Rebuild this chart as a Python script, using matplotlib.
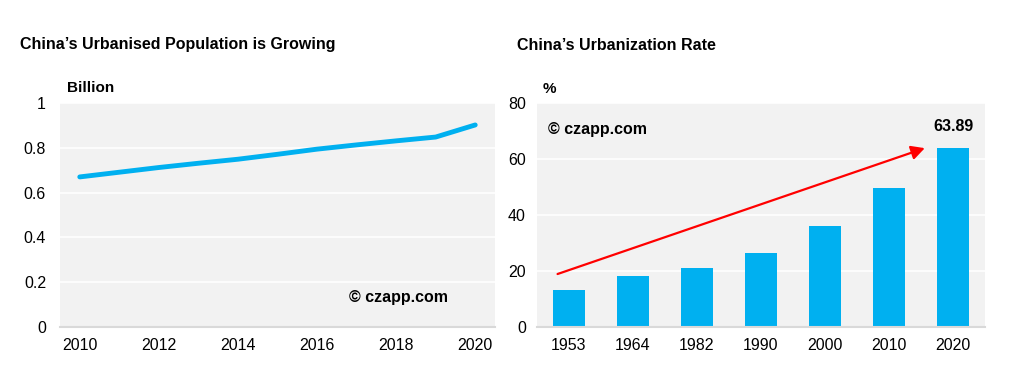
import matplotlib.pyplot as plt

plt.rcParams["font.family"] = ["Liberation Sans", "DejaVu Sans"]

# Left chart: urbanised population (billion)
years = [2010, 2011, 2012, 2013, 2014, 2015, 2016, 2017, 2018, 2019, 2020]
urban_pop = [0.670, 0.691, 0.712, 0.731, 0.749, 0.771, 0.794, 0.813, 0.831, 0.848, 0.902]

# Right chart: urbanization rate (%)
rate_years = ["1953", "1964", "1982", "1990", "2000", "2010", "2020"]
rate_values = [13.3, 18.3, 20.9, 26.4, 36.2, 49.7, 63.89]

BLUE = "#00b0f0"
BG = "#f2f2f2"


def style_axes(ax):
    """Grey background, white grid, no frame except a light base line"""
    ax.set_facecolor(BG)
    ax.grid(axis="y", color="white", linewidth=1.2)
    ax.set_axisbelow(True)
    for side in ["top", "right", "left"]:
        ax.spines[side].set_visible(False)
    ax.spines["bottom"].set_color("#d9d9d9")
    ax.spines["bottom"].set_linewidth(1.5)
    ax.tick_params(length=0, labelsize=11.5, pad=8)


fig = plt.figure(figsize=(10.11, 3.66), dpi=100)

# left
ax1 = fig.add_axes([60 / 1011, 1 - 327 / 366, 435 / 1011, 224 / 366])
style_axes(ax1)
ax1.plot(years, urban_pop, color=BLUE, linewidth=3.5, solid_capstyle="round")
ax1.set_xlim(2009.5, 2020.5)
ax1.set_ylim(0, 1)
ax1.set_xticks(range(2010, 2021, 2))
ax1.set_yticks([0, 0.2, 0.4, 0.6, 0.8, 1])
ax1.set_yticklabels(["0", "0.2", "0.4", "0.6", "0.8", "1"])
ax1.tick_params(axis="y", pad=10)
ax1.text(0.665, 0.11, "© czapp.com", transform=ax1.transAxes,
         fontsize=11.5, fontweight="bold")

# right
ax2 = fig.add_axes([537 / 1011, 1 - 327 / 366, 448 / 1011, 224 / 366])
style_axes(ax2)
xpos = range(len(rate_years))
ax2.bar(xpos, rate_values, width=0.51, color=BLUE)
ax2.set_xlim(-0.5, 6.5)
ax2.set_ylim(0, 80)
ax2.set_xticks(list(xpos))
ax2.set_xticklabels(rate_years)
ax2.set_yticks(range(0, 81, 20))
ax2.tick_params(axis="y", pad=8)
ax2.annotate("", xy=(5.6, 64.2), xytext=(-0.22, 18.6),
             arrowprops=dict(arrowstyle="-|>,head_length=0.8,head_width=0.42",
                             color="#ff0000", linewidth=1.6))
ax2.text(6, rate_values[-1] + 5, "63.89", ha="center", va="bottom",
         fontsize=11.5, fontweight="bold")
ax2.text(0.025, 0.86, "© czapp.com", transform=ax2.transAxes,
         fontsize=11.5, fontweight="bold")

# titles and units
fig.text(20 / 1011, 1 - 45 / 366, "China’s Urbanised Population is Growing",
         fontsize=11.5, fontweight="bold", va="center")
fig.text(517 / 1011, 1 - 45 / 366, "China’s Urbanization Rate",
         fontsize=11.5, fontweight="bold", va="center")
fig.text(67 / 1011, 1 - 88 / 366, "Billion", fontsize=11, fontweight="bold",
         va="center")
fig.text(543 / 1011, 1 - 89 / 366, "%", fontsize=11, fontweight="bold",
         va="center")

fig.savefig("out.png", dpi=100)
